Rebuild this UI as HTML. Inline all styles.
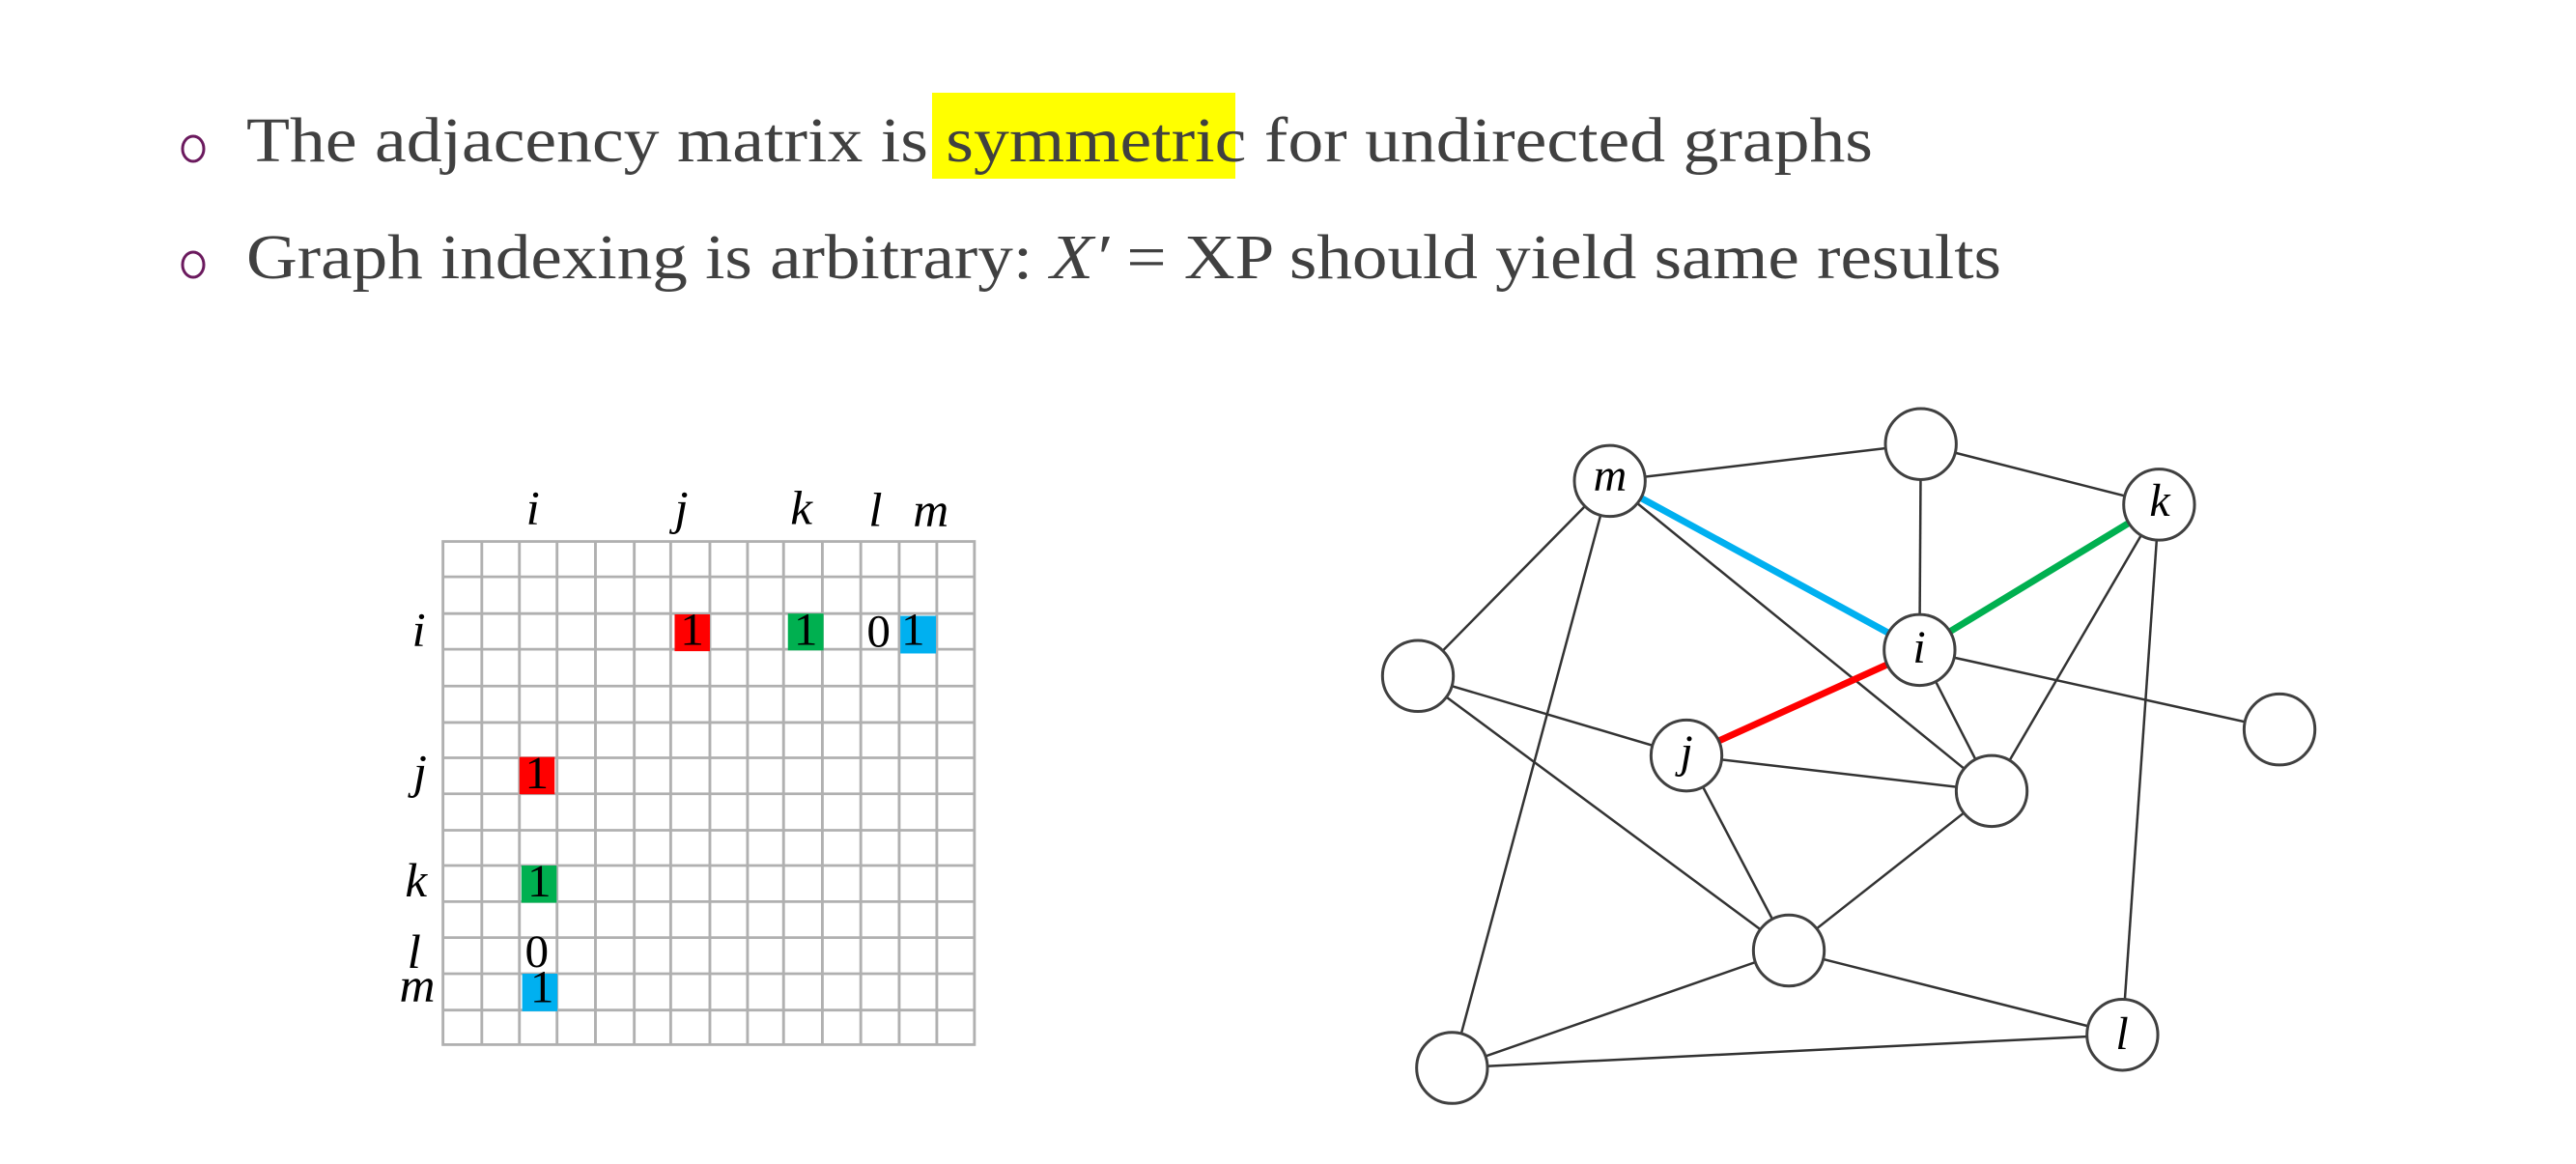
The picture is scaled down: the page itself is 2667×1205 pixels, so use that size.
<!DOCTYPE html>
<html><head><meta charset="utf-8"><style>
html,body{margin:0;padding:0;background:#fff;}
svg{display:block;}
</style></head><body>
<svg width="2667" height="1205" viewBox="0 0 2667 1205" xmlns="http://www.w3.org/2000/svg">
<rect width="2667" height="1205" fill="#fff"/>
<ellipse cx="200" cy="154" rx="11" ry="13" fill="none" stroke="#6b1a5e" stroke-width="3"/>
<ellipse cx="200" cy="274" rx="11" ry="13" fill="none" stroke="#6b1a5e" stroke-width="3"/>
<rect x="965" y="96" width="314" height="89" fill="#ffff00"/>
<g font-family="'Liberation Serif', serif" font-size="66" fill="#404040">
<text x="255" y="167" textLength="1684" lengthAdjust="spacingAndGlyphs">The adjacency matrix is symmetric for undirected graphs</text>
<text x="255" y="288" textLength="1817" lengthAdjust="spacingAndGlyphs">Graph indexing is arbitrary: <tspan font-style="italic">X′</tspan> = XP should yield same results</text>
</g>

<g transform="translate(400,476) scale(0.41,0.397)">
<g stroke="#b0b0b0" stroke-width="7" fill="none">
<rect x="143" y="213" width="1342" height="1312"/>
<path d="M241 213V1525M336 213V1525M431 213V1525M528 213V1525M626 213V1525M718 213V1525M817 213V1525M912 213V1525M1003 213V1525M1101 213V1525M1198 213V1525M1295 213V1525M1390 213V1525"/>
<path d="M143 305H1485M143 401H1485M143 494H1485M143 590H1485M143 685H1485M143 777H1485M143 871H1485M143 966H1485M143 1058H1485M143 1152H1485M143 1246H1485M143 1340H1485M143 1435H1485"/>
</g>
<rect x="728" y="403" width="89" height="96" fill="#ff0000"/>
<rect x="1014" y="401" width="90" height="96" fill="#00b050"/>
<rect x="1298" y="407" width="90" height="98" fill="#00b0f0"/>
<rect x="336" y="775" width="89" height="97" fill="#ff0000"/>
<rect x="341" y="1058" width="89" height="97" fill="#00b050"/>
<rect x="343" y="1340" width="89" height="98" fill="#00b0f0"/>
<g font-family="'Liberation Serif', serif" font-size="120" fill="#000" text-anchor="middle">
<text x="772" y="483">1</text>
<text x="1059" y="483">1</text>
<text x="1243" y="487">0</text>
<text x="1330" y="483">1</text>
<text x="380" y="857">1</text>
<text x="386" y="1138">1</text>
<text x="380" y="1322">0</text>
<text x="393" y="1415">1</text>
</g>
<g font-family="'Liberation Serif', serif" font-style="italic" font-size="125" fill="#000" text-anchor="middle">
<text x="370" y="168">i</text>
<text x="745" y="168">j</text>
<text x="1048" y="168">k</text>
<text x="1235" y="172">l</text>
<text x="1375" y="172">m</text>
<text x="82" y="485">i</text>
<text x="85" y="855">j</text>
<text x="75" y="1138">k</text>
<text x="70" y="1325">l</text>
<text x="78" y="1412">m</text>
</g>
</g>

<g transform="translate(1398,396) scale(0.6667,0.49)">
<g stroke="#333" stroke-width="2.5" fill="none">
<line x1="403" y1="208" x2="886" y2="130" vector-effect="non-scaling-stroke"/>
<line x1="886" y1="130" x2="1256" y2="258" vector-effect="non-scaling-stroke"/>
<line x1="886" y1="130" x2="884" y2="565" vector-effect="non-scaling-stroke"/>
<line x1="403" y1="208" x2="105" y2="620" vector-effect="non-scaling-stroke"/>
<line x1="403" y1="208" x2="158" y2="1448" vector-effect="non-scaling-stroke"/>
<line x1="403" y1="208" x2="996" y2="863" vector-effect="non-scaling-stroke"/>
<line x1="1256" y1="258" x2="996" y2="863" vector-effect="non-scaling-stroke"/>
<line x1="1256" y1="258" x2="1199" y2="1378" vector-effect="non-scaling-stroke"/>
<line x1="105" y1="620" x2="522" y2="788" vector-effect="non-scaling-stroke"/>
<line x1="105" y1="620" x2="681" y2="1200" vector-effect="non-scaling-stroke"/>
<line x1="884" y1="565" x2="1443" y2="733" vector-effect="non-scaling-stroke"/>
<line x1="884" y1="565" x2="996" y2="863" vector-effect="non-scaling-stroke"/>
<line x1="522" y1="788" x2="996" y2="863" vector-effect="non-scaling-stroke"/>
<line x1="522" y1="788" x2="681" y2="1200" vector-effect="non-scaling-stroke"/>
<line x1="996" y1="863" x2="681" y2="1200" vector-effect="non-scaling-stroke"/>
<line x1="681" y1="1200" x2="158" y2="1448" vector-effect="non-scaling-stroke"/>
<line x1="681" y1="1200" x2="1199" y2="1378" vector-effect="non-scaling-stroke"/>
<line x1="158" y1="1448" x2="1199" y2="1378" vector-effect="non-scaling-stroke"/>
</g>
<line x1="403" y1="208" x2="884" y2="565" stroke="#00b0f0" stroke-width="7" vector-effect="non-scaling-stroke"/>
<line x1="884" y1="565" x2="1256" y2="258" stroke="#00b050" stroke-width="7" vector-effect="non-scaling-stroke"/>
<line x1="884" y1="565" x2="522" y2="788" stroke="#ff0000" stroke-width="7" vector-effect="non-scaling-stroke"/>
<g fill="#fff" stroke="#404040" stroke-width="3">
<ellipse cx="403" cy="208" rx="55" ry="75" vector-effect="non-scaling-stroke"/>
<ellipse cx="886" cy="130" rx="55" ry="75" vector-effect="non-scaling-stroke"/>
<ellipse cx="1256" cy="258" rx="55" ry="75" vector-effect="non-scaling-stroke"/>
<ellipse cx="105" cy="620" rx="55" ry="75" vector-effect="non-scaling-stroke"/>
<ellipse cx="884" cy="565" rx="55" ry="75" vector-effect="non-scaling-stroke"/>
<ellipse cx="1443" cy="733" rx="55" ry="75" vector-effect="non-scaling-stroke"/>
<ellipse cx="522" cy="788" rx="55" ry="75" vector-effect="non-scaling-stroke"/>
<ellipse cx="996" cy="863" rx="55" ry="75" vector-effect="non-scaling-stroke"/>
<ellipse cx="681" cy="1200" rx="55" ry="75" vector-effect="non-scaling-stroke"/>
<ellipse cx="1199" cy="1378" rx="55" ry="75" vector-effect="non-scaling-stroke"/>
<ellipse cx="158" cy="1448" rx="55" ry="75" vector-effect="non-scaling-stroke"/>
</g>
</g>
<g font-family="'Liberation Serif', serif" font-style="italic" font-size="48" fill="#000" text-anchor="middle">
<text x="1667" y="508">m</text>
<text x="2236" y="534">k</text>
<text x="1987" y="686">i</text>
<text x="1746" y="794">j</text>
<text x="2197" y="1086">l</text>
</g>
</svg>
</body></html>
